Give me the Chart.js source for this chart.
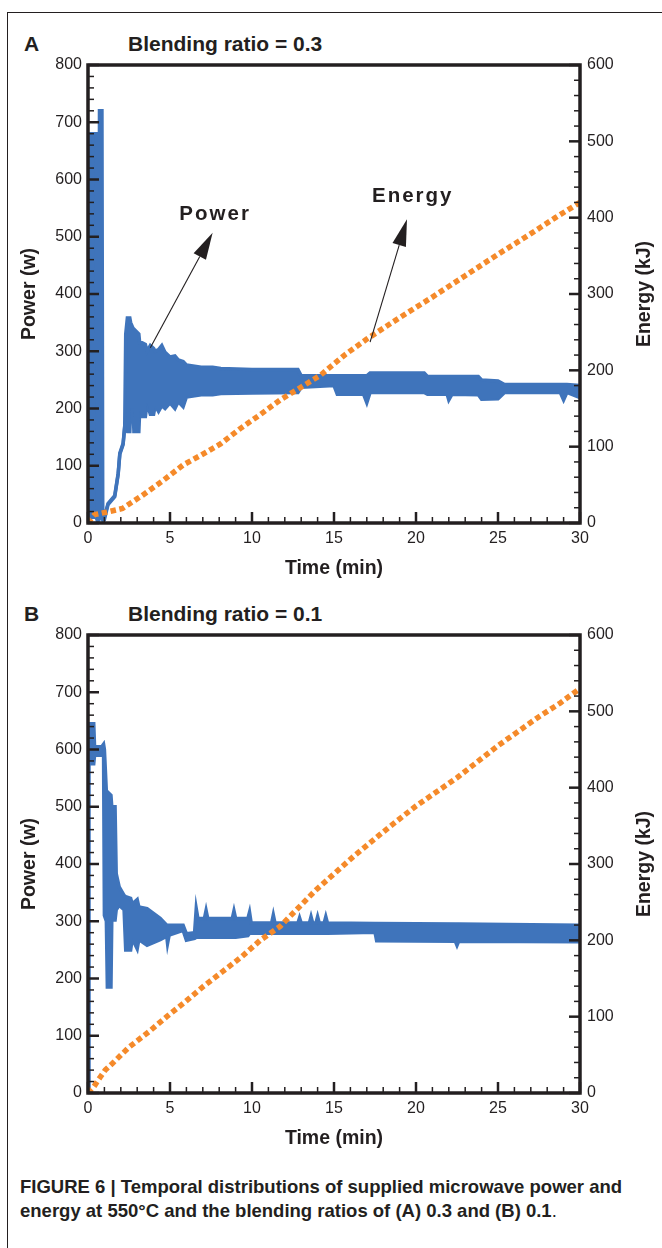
<!DOCTYPE html>
<html>
<head>
<meta charset="utf-8">
<title>Figure 6</title>
<script src="https://cdn.jsdelivr.net/npm/chart.js@4.4.1/dist/chart.umd.min.js"></script>
<style>
	body { margin: 0; background: #fff; }
	#page { position: relative; width: 662px; height: 1248px; overflow: hidden; font-family: "Liberation Sans", Arial, sans-serif; color: #231f20; }
	.frame { position: absolute; left: 7px; top: 12px; width: 700px; height: 1300px; border-left: 1.5px solid #231f20; border-top: 1.5px solid #231f20; }
	.panel { position: absolute; left: 0; width: 662px; height: 560px; }
	.head { position: absolute; font-weight: bold; font-size: 21px; line-height: 20px; white-space: nowrap; }
	.caption { position: absolute; left: 20px; font-weight: bold; font-size: 18.5px; line-height: 20px; white-space: nowrap; }
	.caption .thin { font-weight: normal; }
</style>
</head>
<body>
<div id="page">
	<div class="frame"></div>

	<div class="head" style="left:24px; top:34px;">A</div>
	<div class="head" style="left:128px; top:34px;">Blending ratio = 0.3</div>
	<div class="panel" style="top:40px;"><canvas id="chartA" width="662" height="560"></canvas></div>

	<div class="head" style="left:24px; top:604px;">B</div>
	<div class="head" style="left:128px; top:604px;">Blending ratio = 0.1</div>
	<div class="panel" style="top:610px;"><canvas id="chartB" width="662" height="560"></canvas></div>

	<div class="caption" style="top:1177px;">FIGURE 6 | Temporal distributions of supplied microwave power and</div>
	<div class="caption" style="top:1201px;">energy at 550°C and the blending ratios of (A) 0.3 and (B) 0.1<span class="thin">.</span></div>
</div>

<script>
// axes (same for both panels)
const timeTicks = [0, 5, 10, 15, 20, 25, 30];
const powerTicks = [0, 100, 200, 300, 400, 500, 600, 700, 800];
const energyTicks = [0, 100, 200, 300, 400, 500, 600];
const timeMinorStep = 1;
const powerMinorStep = 20;
const energyMinorStep = 20;

// panel A, blending ratio 0.3 : power trace as upper / lower edge of the band
const powerTimeA = [0, 0.04, 0.1, 0.5, 0.56, 0.66, 0.7, 0.85, 0.9, 1.0, 1.22, 1.63, 1.84, 1.94, 2.14, 2.24, 2.3, 2.4, 2.55, 2.6, 2.75, 2.8, 3.1, 3.15, 3.3, 3.5, 3.6, 3.8, 4.0, 4.1, 4.3, 4.5, 4.7, 5.0, 5.3, 5.5, 5.8, 6.0, 6.9, 7.6, 8.1, 10.0, 12.8, 13.0, 15.0, 15.2, 16.8, 17.0, 17.2, 20.5, 20.7, 21.9, 22.0, 22.2, 23.8, 24.0, 25.0, 25.4, 28.8, 29.0, 29.2, 30.0];
const powerHighA = [30, 640, 680, 680, 15, 15, 720, 720, 15, 10, 34, 48, 87, 122, 139, 170, 330, 358, 358, 350, 340, 340, 330, 315, 315, 312, 300, 310, 305, 300, 303, 310, 298, 290, 292, 285, 282, 276, 272, 272, 270, 268, 268, 257, 257, 257, 257, 257, 262, 262, 256, 256, 256, 256, 256, 250, 248, 242, 242, 242, 242, 240];
const powerLowA = [0, 5, 10, 10, 5, 5, 10, 10, 5, 6, 32, 46, 85, 120, 137, 168, 165, 160, 160, 200, 200, 160, 160, 195, 186, 186, 210, 190, 190, 205, 195, 205, 200, 210, 200, 212, 203, 220, 224, 224, 226, 227, 228, 237, 240, 225, 225, 210, 228, 228, 225, 225, 215, 225, 224, 216, 217, 228, 228, 215, 228, 219];
// panel A : cumulated energy (kJ)
const energyTimeA = [0, 0.2, 0.4, 1.1, 2.1, 3.3, 4.6, 5.8, 6.9, 8.1, 9.3, 10.5, 11.7, 13.0, 14.2, 15.7, 17.0, 19.0, 21.0, 23.0, 25.0, 27.0, 28.5, 30.0];
const energyA = [0, 6, 11, 14, 19, 36, 56, 76, 89, 104, 124, 142, 161, 178, 194, 221, 241, 269, 296, 324, 352, 379, 400, 420];

// panel B, blending ratio 0.1
const powerTimeB = [0, 0.03, 0.06, 0.35, 0.4, 0.85, 0.95, 1.0, 1.12, 1.18, 1.4, 1.45, 1.65, 1.72, 1.9, 2.2, 2.3, 2.6, 2.7, 3.0, 3.1, 3.6, 4.4, 4.8, 4.85, 4.95, 5.8, 6.0, 6.5, 6.6, 6.7, 7.1, 7.2, 7.3, 8.8, 8.9, 9.0, 9.75, 9.85, 9.95, 11.2, 11.3, 11.4, 12.8, 12.9, 13.0, 13.5, 13.6, 13.7, 13.9, 14.0, 14.1, 14.4, 14.5, 14.6, 17.5, 17.6, 22.4, 22.5, 22.6, 30.0];
const powerHighB = [0, 645, 645, 645, 605, 605, 609, 600, 526, 526, 520, 500, 500, 383, 360, 345, 343, 340, 330, 338, 325, 322, 305, 293, 293, 293, 293, 278, 280, 322, 305, 305, 319, 305, 305, 318, 305, 305, 316, 297, 297, 311, 297, 297, 306, 297, 297, 308, 297, 297, 308, 297, 297, 308, 297, 296, 296, 295, 295, 295, 293];
const powerLowB = [0, 0, 575, 575, 590, 590, 590, 310, 300, 185, 185, 302, 302, 320, 328, 320, 250, 250, 270, 252, 268, 258, 268, 274, 261, 276, 284, 267, 270, 272, 272, 272, 272, 272, 272, 272, 272, 275, 279, 279, 279, 279, 279, 279, 279, 279, 279, 279, 279, 279, 279, 279, 279, 279, 279, 281, 266, 265, 258, 265, 264];
const energyTimeB = [0, 0.35, 0.75, 1.05, 1.5, 2.5, 3.7, 4.8, 5.9, 7.0, 8.2, 9.4, 10.5, 11.7, 13.9, 16.2, 18.4, 20.0, 22.5, 25.0, 27.5, 28.8, 30.0];
const energyB = [0, 8, 21, 30, 39, 60, 80, 100, 119, 139, 159, 179, 200, 218, 266, 310, 349, 376, 413, 455, 493, 511, 530];

// arrows of panel A, in data units (time, value on the named axis)
const notesA = [
	{ label: 'Power', axis: 'y', tail: [3.8, 306], tip: [7.6, 507], text: [7.75, 540] },
	{ label: 'Energy', axis: 'y1', tail: [17.2, 237], tip: [19.45, 398], text: [19.8, 428] }
];

const ink = '#231f20';
const blue = '#3f74bb';
const orange = '#f58a2a';

function pairs(xs, ys)
{
	return xs.map((x, i) => ({ x: x, y: ys[i] }));
}

function drawTicks(ctx, scale, majors, step, side, area)
{
	for (let v = scale.min; v <= scale.max + 1e-9; v += step)
	{
		const isMajor = majors.includes(Math.round(v * 1000) / 1000);
		const len = isMajor ? 11 : 6;
		const p = scale.getPixelForValue(v);
		ctx.lineWidth = isMajor ? 2.5 : 1.5;
		ctx.beginPath();
		if (side === 'bottom') { ctx.moveTo(p, area.bottom); ctx.lineTo(p, area.bottom - len); }
		if (side === 'left') { ctx.moveTo(area.left, p); ctx.lineTo(area.left + len, p); }
		if (side === 'right') { ctx.moveTo(area.right, p); ctx.lineTo(area.right - len, p); }
		ctx.stroke();
	}
}

// inward ticks (major + minor) and the plot box, drawn over the data
const axisBox = {
	id: 'axisBox',
	afterDatasetsDraw(chart) {
		const { ctx, chartArea: a, scales } = chart;
		ctx.save();
		ctx.strokeStyle = ink;
		drawTicks(ctx, scales.x, timeTicks, timeMinorStep, 'bottom', a);
		drawTicks(ctx, scales.y, powerTicks, powerMinorStep, 'left', a);
		drawTicks(ctx, scales.y1, energyTicks, energyMinorStep, 'right', a);
		ctx.lineWidth = 3.5;
		ctx.strokeRect(a.left, a.top, a.right - a.left, a.bottom - a.top);

		// right axis title reads bottom to top
		ctx.fillStyle = ink;
		ctx.font = 'bold 19.5px "Liberation Sans", Arial, sans-serif';
		ctx.textAlign = 'center';
		ctx.textBaseline = 'middle';
		ctx.translate(chart.width - 17, (a.top + a.bottom) / 2);
		ctx.rotate(-Math.PI / 2);
		ctx.fillText('Energy (kJ)', 0, 0);
		ctx.restore();
	}
};

// "Power" / "Energy" labels with their arrows
const arrowNotes = {
	id: 'arrowNotes',
	afterDatasetsDraw(chart, args, opts) {
		if (!opts.notes) return;
		const { ctx, scales } = chart;
		ctx.save();
		ctx.strokeStyle = ink;
		ctx.fillStyle = ink;
		opts.notes.forEach(n => {
			const ys = scales[n.axis];
			const x0 = scales.x.getPixelForValue(n.tail[0]), y0 = ys.getPixelForValue(n.tail[1]);
			const x1 = scales.x.getPixelForValue(n.tip[0]), y1 = ys.getPixelForValue(n.tip[1]);
			const ang = Math.atan2(y1 - y0, x1 - x0);
			const headLen = 27, headW = 7;
			const bx = x1 - headLen * Math.cos(ang), by = y1 - headLen * Math.sin(ang);
			ctx.lineWidth = 1.1;
			ctx.beginPath();
			ctx.moveTo(x0, y0);
			ctx.lineTo(bx, by);
			ctx.stroke();
			ctx.beginPath();
			ctx.moveTo(x1, y1);
			ctx.lineTo(bx + headW * Math.sin(ang), by - headW * Math.cos(ang));
			ctx.lineTo(bx - headW * Math.sin(ang), by + headW * Math.cos(ang));
			ctx.closePath();
			ctx.fill();

			ctx.font = 'bold 20.5px "Liberation Sans", Arial, sans-serif';
			ctx.letterSpacing = '2px';
			ctx.textAlign = 'center';
			ctx.textBaseline = 'middle';
			ctx.fillText(n.label, scales.x.getPixelForValue(n.text[0]), ys.getPixelForValue(n.text[1]));
		});
		ctx.restore();
	}
};

function makePanel(canvasId, powerT, powerHi, powerLo, energyT, energyV, notes)
{
	const tickFont = { family: '"Liberation Sans", Arial, sans-serif', size: 16 };
	const titleFont = { family: '"Liberation Sans", Arial, sans-serif', size: 19.5, weight: 'bold' };

	new Chart(document.getElementById(canvasId), {
		type: 'line',
		data: {
			datasets: [
				{
					label: 'Energy',
					data: pairs(energyT, energyV),
					yAxisID: 'y1',
					borderColor: orange,
					borderWidth: 5.5,
					borderDash: [5.5, 3.5],
					pointRadius: 0,
					fill: false,
					order: 0
				},
				{
					label: 'Power',
					data: pairs(powerT, powerHi),
					yAxisID: 'y',
					borderColor: blue,
					backgroundColor: blue,
					borderWidth: 3.5,
					pointRadius: 0,
					fill: '+1',
					order: 1
				},
				{
					label: 'Power (low)',
					data: pairs(powerT, powerLo),
					yAxisID: 'y',
					borderColor: blue,
					borderWidth: 3.5,
					pointRadius: 0,
					fill: false,
					order: 1
				}
			]
		},
		options: {
			responsive: false,
			animation: false,
			layout: { padding: { top: 25, left: 0, right: 0, bottom: 0 } },
			plugins: {
				legend: { display: false },
				tooltip: { enabled: false },
				arrowNotes: { notes: notes }
			},
			scales: {
				x: {
					type: 'linear',
					min: 0, max: 30,
					grid: { display: false, drawTicks: false },
					border: { display: false },
					afterBuildTicks: s => { s.ticks = timeTicks.map(v => ({ value: v })); },
					afterFit: s => { s.height = 77; },
					ticks: { font: tickFont, color: ink, padding: 6, maxRotation: 0, autoSkip: false },
					title: { display: true, text: 'Time (min)', font: titleFont, color: ink, padding: { top: 0, bottom: 20 } }
				},
				y: {
					position: 'left',
					min: 0, max: 800,
					grid: { display: false, drawTicks: false },
					border: { display: false },
					afterBuildTicks: s => { s.ticks = powerTicks.map(v => ({ value: v })); },
					afterFit: s => { s.width = 88; },
					ticks: { font: tickFont, color: ink, padding: 6 },
					title: { display: true, text: 'Power (w)', font: titleFont, color: ink, padding: { top: 18, bottom: 0 } }
				},
				y1: {
					position: 'right',
					min: 0, max: 600,
					grid: { display: false, drawTicks: false },
					border: { display: false },
					afterBuildTicks: s => { s.ticks = energyTicks.map(v => ({ value: v })); },
					afterFit: s => { s.width = 82; },
					ticks: { font: tickFont, color: ink, padding: 7 }
				}
			}
		},
		plugins: [axisBox, arrowNotes]
	});
}

makePanel('chartA', powerTimeA, powerHighA, powerLowA, energyTimeA, energyA, notesA);
makePanel('chartB', powerTimeB, powerHighB, powerLowB, energyTimeB, energyB, null);
</script>
</body>
</html>
